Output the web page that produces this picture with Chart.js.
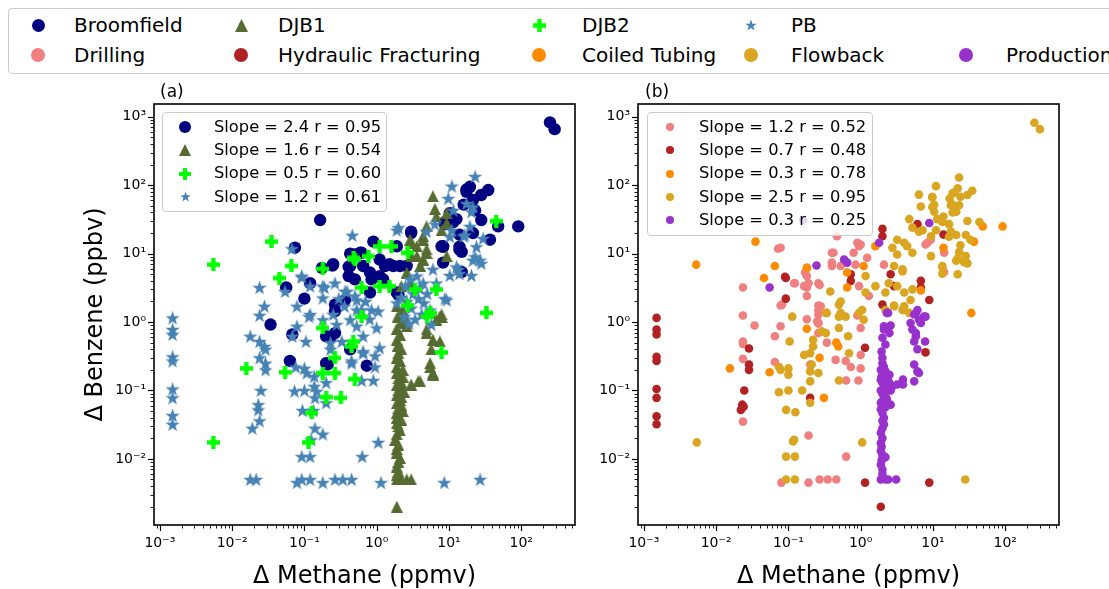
<!DOCTYPE html>
<html>
<head>
<meta charset="utf-8">
<script src="https://cdn.jsdelivr.net/npm/chart.js@4.4.0/dist/chart.umd.min.js"></script>
<style>
  body { margin: 0; width: 1109px; height: 589px; overflow: hidden; background: #fff; position: relative;
         font-family: 'DejaVu Sans', sans-serif; color: #000; }
  canvas.plot { position: absolute; top: 80px; }
  #plotA { left: 0; }
  #plotB { left: 596px; }
  .box { position: absolute; border: 1px solid #cccccc; border-radius: 4px; background: rgba(255,255,255,0.8); }
  .item { position: absolute; white-space: nowrap; line-height: 1; }
  .item canvas { position: absolute; }
  .tag { position: absolute; font-size: 17px; }
</style>
</head>
<body>
<div class="box" id="topLegend" style="left:8px;top:8px;width:1130px;height:64px;background:#fff"></div>
<canvas class="plot" id="plotA" width="596" height="520"></canvas>
<canvas class="plot" id="plotB" width="513" height="520"></canvas>
<div class="tag" style="left:160px;top:81px">(a)</div>
<div class="tag" style="left:645px;top:81px">(b)</div>
<div class="box" id="legA" style="left:162px;top:112px;width:223px;height:98px"></div>
<div class="box" id="legB" style="left:647px;top:112px;width:224px;height:122px"></div>
<script>
// basins (panel a) and stages (panel b)
var groups = ['Broomfield', 'DJB1', 'DJB2', 'PB'];
var groupColors = ['#000080', '#556B2F', '#00FF00', '#4682B4'];
var groupShapes = ['circle', 'triangle', 'plus', 'star'];
var groupFits = ['Slope = 2.4 r = 0.95', 'Slope = 1.6 r = 0.54', 'Slope = 0.5 r = 0.60', 'Slope = 1.2 r = 0.61'];

var stages = ['Drilling', 'Hydraulic Fracturing', 'Coiled Tubing', 'Flowback', 'Production'];
var stageColors = ['#F08080', '#B22222', '#FF8C00', '#DAA520', '#9932CC'];
var stageFits = ['Slope = 1.2 r = 0.52', 'Slope = 0.7 r = 0.48', 'Slope = 0.3 r = 0.78', 'Slope = 2.5 r = 0.95', 'Slope = 0.3 r = 0.25'];

// axis limits (ppmv / ppbv)
var xRange = [0.00083, 555];
var yRange = [0.00108, 1540];

// [delta methane, delta benzene]
var broomfield = [[250,830],[290,660],[17.5,80],[19.5,95],[35,85],[28,72],[21.5,61],[23,43],[28,31],[48,25],[91,25],[37,16],
  [14,12.6],[15,10.6],[8.8,29],[11.5,29],[8.3,12.6],[15,5.4],[10.3,39],[16,52],[17.5,87],[12.7,32],[0.165,31],[0.074,12.2],
  [0.9,15],[3.0,21],[8.3,12.8],[14,11.5],[8.8,27],[0.43,6.6],[0.5,9.7],[0.62,10.3],[1.1,8.2],[1.3,6.6],[2.1,6.6],[0.25,7.0],
  [0.175,6.2],[0.12,3.7],[0.41,4.7],[0.5,4.2],[0.81,5.3],[1.1,4.7],[0.81,2.7],[1.9,2.7],[0.265,1.8],[1.5,7],[0.65,6.6],
  [0.245,6.7],[0.43,10],[0.59,10.3],[0.41,6.4],[0.056,3.2],[0.10,2.2],[0.265,1.44],[0.034,0.92],[0.068,0.66],[0.23,0.6],
  [0.063,0.27],[0.2,0.25],[0.73,0.23],[0.43,0.40],[0.365,2.1],[0.21,0.24],[0.265,0.69],[0.2,0.62],[14,19],[7.9,12.8],
  [21.5,20],[1.9,12.8],[3.0,20],[1.7,6.6],[2.6,6.6],[8.3,7.4],[2.0,2.5],[1.23,4.2],[0.85,4.2]];

var djb1 = [[6.0,69],[6.4,45],[6.7,35],[4.9,25],[9.3,28],[4.4,18],[3.6,12.8],[2.9,16],[4.9,11.5],[3.0,9.2],[4.4,8.2],[9.3,9.2],
  [4.0,6.6],[2.6,5.3],[3.0,3.7],[2.2,3.35],[2.3,1.36],[2.5,0.97],[7.9,1.29],[6.7,1.08],[9.3,39],[7.9,22],[7.9,1.2],[3.0,14.4],
  [4.4,16],[3.6,9.2],[4.9,10.3],[5.5,1.36],[7.5,1.2],[1.9,1.7],[2.3,1.5],[2.6,0.87],[1.9,0.55],[4.9,0.69],[6.0,0.55],[7.5,0.52],
  [5.7,0.40],[5.5,0.22],[6.0,0.17],[3.75,0.136],[3.0,0.122],[2.0,0.35],[1.9,0.22],[2.3,0.16],[2.0,0.10],[2.1,0.073],[1.9,0.047],
  [2.0,0.030],[1.8,0.019],[1.9,0.0123],[2.1,0.0103],[1.9,0.0077],[1.9,0.005],[2.2,0.005],[3.0,0.005],[1.9,0.002],[4.9,0.78],
  [5.5,0.25],[6.0,0.18],[4.0,0.136],[2.6,1.03],[1.95,1.2],[2.2,1.0],[1.9,0.8],[2.1,0.65],[1.95,0.45],[2.2,0.4],[1.9,0.3],
  [2.1,0.27],[2.3,0.2],[1.9,0.18],[2.0,0.15],[2.2,0.13],[1.9,0.12],[2.1,0.11],[2.4,0.095],[1.9,0.085],[2.2,0.08],[1.9,0.065],
  [2.2,0.06],[2.0,0.055],[2.3,0.05],[1.9,0.04],[2.2,0.037],[1.9,0.033],[2.1,0.026],[1.9,0.023],[2.0,0.016],[1.9,0.014],
  [2.0,0.009],[2.0,0.0065],[1.9,0.0058],[2.6,0.005]];

var djb2 = [[0.0055,6.9],[0.0055,0.0174],[0.035,15],[0.066,6.6],[0.045,4.4],[0.0157,0.21],[0.054,0.185],[0.18,6.0],[0.5,8.2],
  [0.62,3.2],[0.62,1.2],[0.18,0.82],[0.475,0.52],[0.45,0.44],[0.265,0.30],[0.18,0.18],[0.265,0.18],[0.5,0.147],[0.2,0.08],
  [0.32,0.078],[0.126,0.047],[0.114,0.0174],[1.1,12.8],[1.6,12.8],[2.7,10.3],[0.48,8.7],[0.77,9.2],[1.1,3.35],[1.5,3.35],
  [3.4,3.0],[2.7,1.75],[5.5,1.36],[6.7,3.0],[45,30],[33,1.36],[7.9,0.36],[5.0,1.2]];

var pb = [[0.0015,1.15],[0.0015,0.78],[0.0015,0.66],[0.0015,0.31],[0.0015,0.27],[0.0015,0.105],[0.0015,0.078],[0.0015,0.043],
  [0.0015,0.032],[0.0178,0.62],[0.024,3.2],[0.028,1.7],[0.024,1.25],[0.024,0.52],[0.028,0.44],[0.029,0.40],[0.024,0.30],
  [0.029,0.25],[0.029,0.20],[0.025,0.10],[0.023,0.062],[0.023,0.052],[0.024,0.036],[0.019,0.028],[0.0178,0.005],[0.0215,0.005],
  [0.068,0.62],[0.079,0.87],[0.079,1.7],[0.092,4.5],[0.067,11.8],[0.054,2.8],[0.105,0.52],[0.076,0.22],[0.1,0.21],[0.116,1.2],
  [0.108,0.18],[0.073,0.098],[0.10,0.10],[0.137,0.16],[0.137,0.115],[0.148,0.097],[0.14,0.078],[0.2,0.13],[0.2,0.066],
  [0.094,0.051],[0.133,0.051],[0.14,0.028],[0.18,0.023],[0.124,0.019],[0.092,0.0108],[0.12,0.0108],[0.079,0.0045],[0.092,0.005],
  [0.12,0.005],[0.18,0.0045],[0.265,0.005],[0.34,0.005],[0.45,0.005],[0.63,0.0108],[0.46,18.5],[0.19,3.2],[0.18,2.25],
  [0.265,3.7],[0.39,2.8],[0.53,2.1],[0.18,1.08],[0.28,0.92],[0.43,1.08],[0.53,0.87],[0.65,0.62],[0.23,0.5],[0.33,0.52],
  [0.23,0.40],[0.45,0.27],[0.65,0.35],[0.62,0.14],[0.65,0.37],[0.95,0.32],[0.95,0.22],[0.9,0.14],[1.1,0.42],[1.0,0.82],
  [0.45,0.25],[5.7,0.92],[8.6,0.0045],[27,0.005],[1.05,0.0174],[1.15,0.0045],[23,134],[11,97],[1.9,22],[2.0,24],[6.4,27],
  [16,18],[19.5,25],[13.5,5.9],[6.0,5.9],[3.6,4.7],[4.4,3.7],[6.7,3.7],[2.5,3.35],[2.9,4.2],[9.3,2.1],[5.5,1.5],[1.9,1.9],
  [0.092,4.7],[0.12,3.35],[0.18,3.35],[0.365,2.8],[0.5,2.4],[0.53,1.5],[0.85,1.5],[1.05,1.44],[0.12,1.29],[0.25,1.29],[4.9,21],
  [9.8,64],[17.5,54],[20.5,41],[21.5,48],[11.5,43],[10.3,17.7],[16.6,18.7],[29.7,16.7],[24,12.6],[23,9.0],[27,8.0],[21.5,8.0],
  [28,7.2],[12.7,6.4],[10.3,4.8],[14,5.1],[20.5,4.8],[8.8,2.2],[11,22],[2.2,2.3],[2.6,2.0],[3.2,2.6],[3.8,2.2],[4.5,1.9],
  [3.0,1.6],[2.4,1.2],[3.4,1.1],[4.2,1.3],[2.8,0.95],[5.0,2.6],[3.9,3.1],[0.3,2.2],[0.36,1.7],[0.7,2.0],[0.8,1.1],[0.62,1.5]];

var drilling = [[0.072,11.8],[0.0235,3.2],[0.0235,1.25],[0.034,0.89],[0.0235,0.52],[0.0235,0.48],[0.0235,0.29],[0.0235,0.035],
  [0.078,1.75],[0.078,0.87],[0.065,0.62],[0.065,0.26],[0.123,3.7],[0.18,4.7],[0.18,3.2],[0.18,2.4],[0.27,3.5],[0.26,1.75],
  [0.26,1.29],[0.18,1.1],[0.26,0.95],[0.34,0.5],[0.2,0.24],[0.19,0.022],[0.08,0.0045],[0.19,0.0045],[0.27,0.005],[0.35,0.005],
  [0.46,0.005],[0.18,6.2],[0.42,10.3],[0.47,18],[1.0,13.6],[0.95,12.8],[1.23,8.7],[0.8,10.3],[0.4,10.3],[0.4,6.6],[0.17,5.3],
  [0.165,3.35],[0.19,3.7],[0.12,3.7],[0.26,3.7],[0.082,1.8],[0.95,3.35],[1.3,2.4],[2.1,6.9],[0.28,1.7],[0.25,1.03],[0.078,12.2],
  [7.9,13.6],[14.3,10.3],[14.3,5.4],[9.3,16],[0.26,0.98],[0.26,1.5],[0.45,0.28],[0.62,0.27],[0.63,0.14],[0.73,0.22],[0.93,0.14],
  [1.0,0.21],[1.0,0.82],[1.0,0.33],[0.9,1.25],[0.63,0.0108],[0.26,0.69],[0.9,14.4],[0.4,7.4],[0.53,6.6],[0.85,6.9],[8.4,14.4]];

var fracturing = [[0.0015,1.15],[0.0015,0.78],[0.0015,0.66],[0.0015,0.31],[0.0015,0.27],[0.0015,0.105],[0.0015,0.078],
  [0.0015,0.042],[0.0015,0.032],[0.0285,0.41],[0.0285,0.24],[0.0285,0.20],[0.0245,0.10],[0.023,0.062],[0.022,0.052],[0.024,0.058],
  [0.092,4.4],[0.092,2.2],[0.2,0.078],[2.0,23],[2.0,18],[0.73,5.0],[0.73,4.0],[0.09,4.6],[2.6,5.0],[2.9,3.35],[6.8,4.0],
  [6.8,3.2],[8.9,2.1],[2.0,1.8],[6.1,27],[14,19],[7.9,0.36],[1.15,0.42],[8.9,0.0045],[1.15,0.0045],[1.9,0.002]];

var coiled = [[0.0053,6.9],[0.035,15],[0.065,6.6],[0.046,4.4],[0.0155,0.21],[0.055,0.185],[0.18,6.2],[0.18,0.8],[0.31,0.078],
  [0.27,0.30],[1.1,6.6],[0.65,5.3],[1.6,12.8],[0.65,3.2],[14,12.2],[92,25],[34,1.36],[37,15],[6.8,2.9],[49,25],[0.46,0.5],
  [0.49,0.44]];

var flowback = [[253,820],[302,660],[23,130],[11,97],[22,90],[35,83],[18.7,76],[30,72],[17,64],[24,68],[9.8,68],[23,51],
  [17.7,51],[9.8,48],[10.4,41],[21,41],[11.5,32],[13.5,29],[16.7,27],[30,30],[44,29],[11,22],[17.7,21],[21,18.7],[28.5,18.7],
  [16.7,17.7],[33,16],[24,13.3],[9.4,9.2],[23,10.6],[22,8.5],[28.5,9.2],[21,7.9],[30,7.2],[13.5,6.4],[13.5,5.1],[22,5.0],
  [6.4,73],[6.8,49],[9.8,66],[10.4,52],[4.7,32],[5.2,24],[7.2,22],[3.2,16],[2.75,12.2],[4.0,14.4],[4.4,12.8],[5.2,10.3],
  [3.2,9.7],[2.9,6.6],[3.8,5.9],[2.45,3.7],[3.2,3.35],[5.2,3.0],[4.0,2.7],[4.9,2.1],[2.9,1.7],[4.0,1.7],[13.5,6.6],[1.6,3.35],
  [1.17,4.7],[1.17,2.7],[0.38,2.8],[0.53,2.0],[0.53,1.36],[0.34,1.36],[0.113,1.2],[0.29,0.73],[0.95,1.36],[1.1,1.08],[19.7,78],
  [18.7,52],[14,35],[6.4,21],[9.4,18],[3.8,5.5],[2.2,2.7],[2.2,1.5],[4.7,1.36],[1.05,1.5],[18.7,40],[27,7.5],[0.104,0.52],
  [0.074,0.22],[0.078,0.20],[0.10,0.21],[0.10,0.17],[0.074,0.094],[0.10,0.10],[0.155,0.10],[0.093,0.052],[0.125,0.048],
  [0.116,0.018],[0.12,0.019],[0.093,0.0108],[0.123,0.0108],[0.093,0.005],[0.123,0.005],[0.0054,0.0174],[0.2,0.35],[0.165,0.33],
  [0.21,0.24],[0.2,0.19],[0.26,0.18],[0.2,0.136],[0.2,0.066],[0.33,1.36],[0.33,0.69],[0.22,0.55],[0.22,0.44],[0.5,1.8],
  [0.5,1.2],[0.62,1.2],[0.67,0.62],[0.69,0.35],[0.5,0.14],[0.5,0.82],[1.05,0.0174],[2.9,1.75],[3.8,1.5],[28,0.005]];

var production = [[0.245,6.7],[0.055,3.2],[0.16,31],[8.9,28],[1.8,14.4],[0.59,8.2],[0.65,7.4],[2.3,1.36],[2.1,0.87],[2.5,0.69],
  [5.8,1.36],[6.4,1.08],[4.9,0.97],[7.9,1.2],[5.8,0.69],[2.4,1.36],[2.6,0.89],[2.1,0.78],[2.0,0.59],[1.95,0.37],[2.0,0.3],
  [1.9,0.2],[2.2,0.19],[2.5,0.17],[1.9,0.144],[2.5,0.128],[2.75,0.115],[3.2,0.122],[3.85,0.144],[3.85,0.122],[1.9,0.10],
  [2.2,0.082],[1.9,0.066],[2.6,0.062],[2.0,0.047],[2.1,0.032],[1.9,0.024],[1.9,0.017],[1.9,0.013],[2.2,0.0106],[1.9,0.0082],
  [1.9,0.005],[2.2,0.005],[3.1,0.005],[2.2,0.47],[5.5,1.29],[6.1,1.5],[7.5,1.2],[6.8,0.97],[5.2,0.78],[5.8,0.62],[5.5,0.52],
  [6.1,0.40],[5.5,0.24],[6.1,0.19],[6.4,0.18],[5.5,0.136],[7.8,0.52],[2.0,0.25],[2.1,0.22],[1.95,0.16],[2.2,0.15],[2.0,0.13],
  [2.3,0.11],[2.0,0.09],[2.3,0.075],[2.0,0.07],[2.2,0.057],[1.9,0.053],[2.1,0.04],[2.0,0.036],[2.0,0.028],[2.0,0.02],
  [1.95,0.015],[2.0,0.0115],[1.95,0.0095],[2.0,0.007],[2.0,0.006],[2.4,0.005],[2.2,0.12],[2.4,0.14],[2.6,0.1]];

var groupData = [broomfield, djb1, djb2, pb];
var stageData = [drilling, fracturing, coiled, flowback, production];

var FONT = "'DejaVu Sans', sans-serif";
var SUP = {'-': '\u207B', '0': '\u2070', '1': '\u00B9', '2': '\u00B2', '3': '\u00B3'};

// marker sprite, size in px
function marker(shape, color, size) {
  var c = document.createElement('canvas');
  c.width = size; c.height = size;
  var g = c.getContext('2d');
  var h = size / 2;
  g.fillStyle = color;
  g.beginPath();
  if (shape === 'circle') {
    g.arc(h, h, h, 0, Math.PI * 2);
  } else if (shape === 'triangle') {
    g.moveTo(h, 0); g.lineTo(size, size); g.lineTo(0, size);
  } else if (shape === 'plus') {
    var a = size / 3, b = 2 * size / 3;
    g.moveTo(a, 0); g.lineTo(b, 0); g.lineTo(b, a); g.lineTo(size, a); g.lineTo(size, b); g.lineTo(b, b);
    g.lineTo(b, size); g.lineTo(a, size); g.lineTo(a, b); g.lineTo(0, b); g.lineTo(0, a); g.lineTo(a, a);
  } else if (shape === 'star') {
    for (var i = 0; i < 10; i++) {
      var r = i % 2 ? h * 0.4 : h;
      var ang = -Math.PI / 2 + i * Math.PI / 5;
      var px = h + r * Math.cos(ang), py = h + 0.6 + r * Math.sin(ang);
      if (i === 0) g.moveTo(px, py); else g.lineTo(px, py);
    }
  }
  g.closePath();
  g.fill();
  return c;
}

function logTicks(scale) {
  var out = [];
  for (var e = -4; e <= 3; e++) {
    for (var m = 1; m <= 9; m++) {
      var v = m * Math.pow(10, e);
      if (v >= scale.min && v <= scale.max) out.push({value: v, major: m === 1});
    }
  }
  scale.ticks = out;
}

function tickLabel(value, index, ticks) {
  if (!ticks[index].major) return '';
  var e = String(Math.round(Math.log10(value)));
  return '10' + e.split('').map(function (ch) { return SUP[ch]; }).join('');
}

// outward tick marks and the full axes frame
var frame = {
  id: 'frame',
  afterDraw: function (chart) {
    var ctx = chart.ctx, a = chart.chartArea, sx = chart.scales.x, sy = chart.scales.y;
    ctx.save();
    ctx.strokeStyle = '#000';
    sx.ticks.forEach(function (t) {
      var p = Math.round(sx.getPixelForValue(t.value)) + 0.5;
      ctx.lineWidth = t.major ? 1.2 : 0.9;
      ctx.beginPath(); ctx.moveTo(p, a.bottom); ctx.lineTo(p, a.bottom + (t.major ? 6 : 3.5)); ctx.stroke();
    });
    sy.ticks.forEach(function (t) {
      var p = Math.round(sy.getPixelForValue(t.value)) + 0.5;
      ctx.lineWidth = t.major ? 1.2 : 0.9;
      ctx.beginPath(); ctx.moveTo(a.left, p); ctx.lineTo(a.left - (t.major ? 6 : 3.5), p); ctx.stroke();
    });
    ctx.lineWidth = 1.6;
    ctx.strokeRect(a.left, a.top, a.right - a.left, a.bottom - a.top);
    ctx.restore();
  }
};

function scales(yWidth, showYTitle) {
  var common = {
    type: 'logarithmic',
    grid: {display: true, drawOnChartArea: false, drawTicks: true, tickLength: 6, color: 'rgba(0,0,0,0)'},
    border: {display: false},
    afterBuildTicks: logTicks
  };
  return {
    x: Object.assign({}, common, {
      min: xRange[0], max: xRange[1],
      ticks: {autoSkip: false, maxRotation: 0, minRotation: 0, padding: 4, color: '#000',
              font: {family: FONT, size: 14}, callback: tickLabel},
      title: {display: true, text: '\u0394 Methane (ppmv)', color: '#000', font: {family: FONT, size: 24},
              padding: {top: 0, bottom: 9}},
      afterFit: function (s) { s.height = 75; }
    }),
    y: Object.assign({}, common, {
      min: yRange[0], max: yRange[1],
      ticks: {autoSkip: false, padding: 2, color: '#000', font: {family: FONT, size: 14}, callback: tickLabel},
      title: {display: showYTitle, text: '\u0394 Benzene (ppbv)', color: '#000', font: {family: FONT, size: 24},
              padding: {top: 81, bottom: 0}},
      afterFit: function (s) { s.width = yWidth; }
    })
  };
}

function baseOptions(padRight, yWidth, showYTitle) {
  return {
    responsive: false,
    animation: false,
    events: [],
    devicePixelRatio: 1,
    layout: {padding: {left: 0, top: 24, right: padRight, bottom: 0}},
    plugins: {legend: {display: false}, tooltip: {enabled: false}},
    scales: scales(yWidth, showYTitle)
  };
}

function pts(arr) { return arr.map(function (p) { return {x: p[0], y: p[1]}; }); }

// panel (a): sprites for plus/star/triangle, built-in circles
var groupStyle = [
  {pointStyle: 'circle', pointRadius: 6.2},
  {pointStyle: marker('triangle', groupColors[1], 12), pointRadius: 6},
  {pointStyle: marker('plus', groupColors[2], 13), pointRadius: 6},
  {pointStyle: marker('star', groupColors[3], 15), pointRadius: 6}
];
var drawOrder = [4, 3, 1, 2];

new Chart(document.getElementById('plotA'), {
  type: 'scatter',
  data: {
    datasets: groups.map(function (name, i) {
      return Object.assign({
        label: name,
        data: pts(groupData[i]),
        backgroundColor: groupColors[i],
        borderWidth: 0,
        order: drawOrder[i]
      }, groupStyle[i]);
    })
  },
  options: baseOptions(21, 154, true),
  plugins: [frame]
});

new Chart(document.getElementById('plotB'), {
  type: 'scatter',
  data: {
    datasets: stages.map(function (name, i) {
      return {
        label: name,
        data: pts(stageData[i]),
        backgroundColor: stageColors[i],
        borderWidth: 0,
        pointStyle: 'circle',
        pointRadius: 4.3,
        order: 5 - i
      };
    })
  },
  options: baseOptions(50, 42, false),
  plugins: [frame]
});

// legends (HTML text, sprite markers)
function addItem(box, cx, cy, sprite, textLeft, text, size) {
  sprite.style.position = 'absolute';
  sprite.style.left = (cx - sprite.width / 2) + 'px';
  sprite.style.top = (cy - sprite.height / 2) + 'px';
  box.appendChild(sprite);
  var t = document.createElement('div');
  t.className = 'item';
  t.textContent = text;
  t.style.fontSize = size + 'px';
  t.style.left = textLeft + 'px';
  t.style.top = (cy - size * 0.5) + 'px';
  box.appendChild(t);
}

var topBox = document.getElementById('topLegend');
var colMarker = [29, 232, 530, 742, 957];
var colText = [65, 269, 573, 782, 997];
var groupLegendSize = [13, 13, 13, 12];
groups.forEach(function (name, i) {
  addItem(topBox, colMarker[i], 16, marker(groupShapes[i], groupColors[i], groupLegendSize[i]), colText[i], name, 20);
});
stages.forEach(function (name, i) {
  addItem(topBox, colMarker[i], 46, marker('circle', stageColors[i], 14), colText[i], name, 20);
});

var legA = document.getElementById('legA');
var legSizeA = [12, 12, 12, 11];
groupFits.forEach(function (txt, i) {
  addItem(legA, 22, 14 + i * 23.3, marker(groupShapes[i], groupColors[i], legSizeA[i]), 51, txt, 16.3);
});
var legB = document.getElementById('legB');
stageFits.forEach(function (txt, i) {
  addItem(legB, 22, 14 + i * 23.3, marker('circle', stageColors[i], 8), 51, txt, 16.3);
});
</script>
</body>
</html>
